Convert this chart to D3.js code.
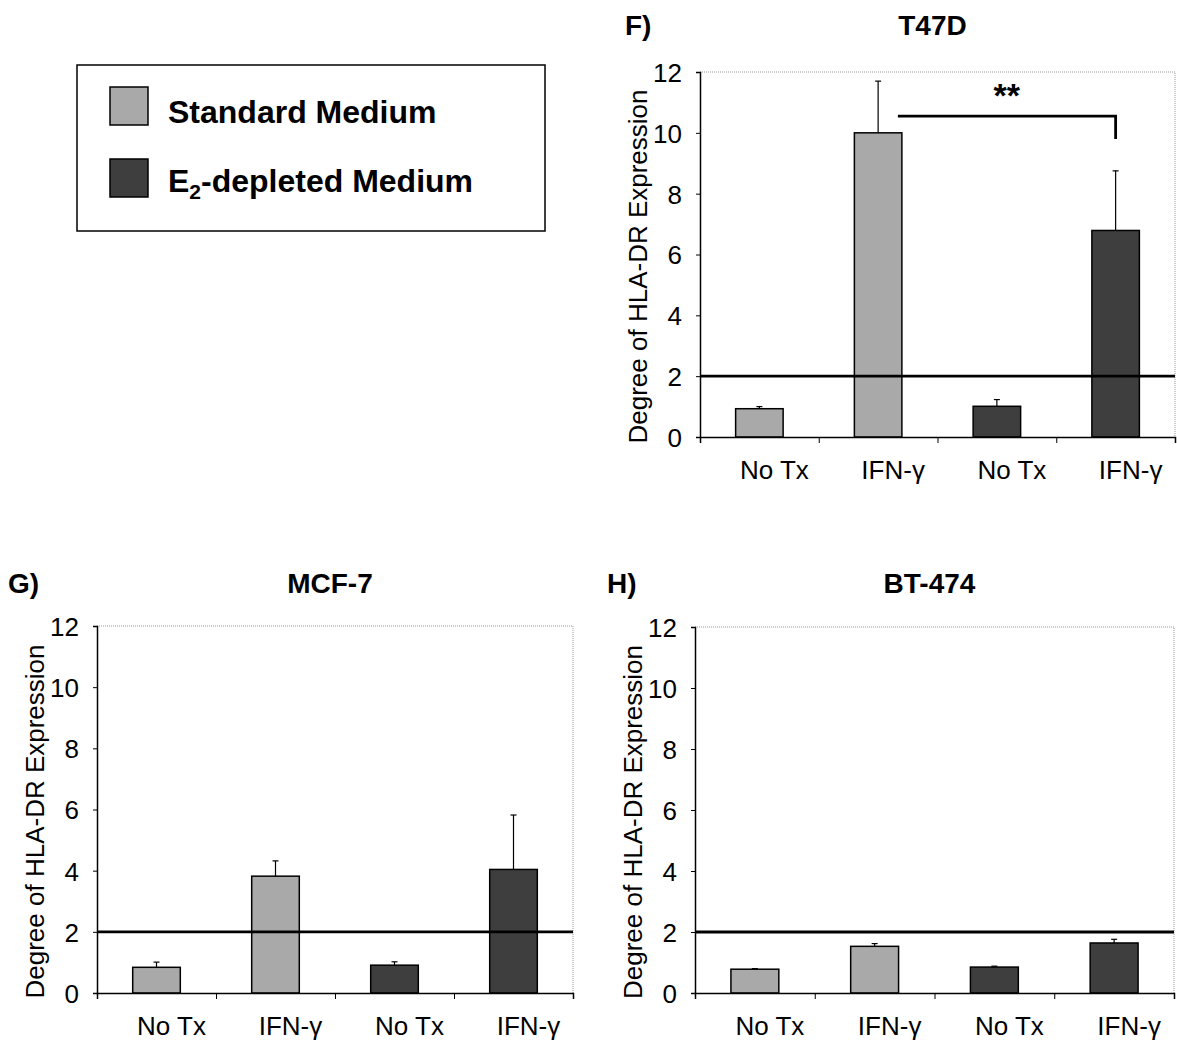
<!DOCTYPE html>
<html><head><meta charset="utf-8">
<script src="https://cdn.jsdelivr.net/npm/d3@7"></script>
<style>
body{margin:0;background:#fff;}
text{font-family:"Liberation Sans",Arial,sans-serif;fill:#000;}
</style></head>
<body><svg id="c" width="1177" height="1044"></svg>
<script>
// ---- data ----
const categories = ["No Tx", "IFN-γ", "No Tx", "IFN-γ"];
const media = ["std", "std", "e2", "e2"];
const legendLabels = ["Standard Medium", "E2-depleted Medium"];
const yTicks = [0, 2, 4, 6, 8, 10, 12];
const threshold = 2;

const t47dMeans = [0.93, 10.0, 1.01, 6.79];
const t47dErr   = [0.07, 1.70, 0.22, 1.96];
const mcf7Means = [0.84, 3.82, 0.91, 4.04];
const mcf7Err   = [0.17, 0.50, 0.11, 1.78];
const bt474Means = [0.78, 1.53, 0.85, 1.64];
const bt474Err   = [0.02, 0.09, 0.03, 0.12];

// significance bracket T47D (from bar 2 to bar 4)
const sigFrom = 1, sigTo = 3, sigLevel = 10.55, sigDrop = 9.8, sigLabel = "**";

const colors = {std: "#a9a9a9", e2: "#3e3e3e"};

const svg = d3.select("#c");

function panel(opt) {
  const {left, right, top, bottom, means, errs, title, letter, titleY, letterX} = opt;
  const g = svg.append("g");
  const x = d3.scaleBand().domain(d3.range(categories.length)).range([left, right])
    .paddingInner(0.6).paddingOuter(0.3);
  const y = d3.scaleLinear().domain([0, 12]).range([bottom, top]);

  // dotted frame top & right
  g.append("path").attr("d", `M${left},${top}H${right}V${bottom}`)
    .attr("fill", "none").attr("stroke", "#999").attr("stroke-width", 1)
    .attr("stroke-dasharray", "1,1");

  // bars
  g.selectAll("rect.bar").data(means).join("rect")
    .attr("x", (d, i) => x(i)).attr("width", x.bandwidth())
    .attr("y", d => y(d)).attr("height", d => y(0) - y(d))
    .attr("fill", (d, i) => colors[media[i]])
    .attr("stroke", "#000").attr("stroke-width", 1.5);

  // error bars (upper)
  const eb = g.selectAll("g.eb").data(means).join("g");
  eb.append("line")
    .attr("x1", (d, i) => x(i) + x.bandwidth() / 2).attr("x2", (d, i) => x(i) + x.bandwidth() / 2)
    .attr("y1", d => y(d)).attr("y2", (d, i) => y(d + errs[i]))
    .attr("stroke", "#000").attr("stroke-width", 1.2);
  eb.append("line")
    .attr("x1", (d, i) => x(i) + x.bandwidth() / 2 - 3).attr("x2", (d, i) => x(i) + x.bandwidth() / 2 + 3)
    .attr("y1", (d, i) => y(d + errs[i])).attr("y2", (d, i) => y(d + errs[i]))
    .attr("stroke", "#000").attr("stroke-width", 1.2);

  // threshold line
  g.append("line").attr("x1", left).attr("x2", right)
    .attr("y1", y(threshold)).attr("y2", y(threshold))
    .attr("stroke", "#000").attr("stroke-width", 2.8);

  // y axis
  const ya = g.append("g").attr("transform", `translate(${left},0)`)
    .call(d3.axisLeft(y).tickValues(yTicks).tickSize(4).tickPadding(14));
  ya.select(".domain").attr("stroke-width", 1.5);
  ya.selectAll("text").style("font-size", "26px").attr("dy", "0.36em");

  // x axis with ticks at band boundaries
  const xb = d3.scaleLinear().domain([0, categories.length]).range([left, right]);
  const xa = g.append("g").attr("transform", `translate(0,${bottom})`)
    .call(d3.axisBottom(xb).tickValues(d3.range(categories.length + 1)).tickSize(6).tickFormat(""));
  xa.select(".domain").attr("stroke-width", 1.5);
  g.selectAll("text.xl").data(categories).join("text")
    .attr("x", (d, i) => x(i) + x.bandwidth() / 2 + 15)
    .attr("y", bottom + 42).attr("text-anchor", "middle")
    .style("font-size", "26px").text(d => d);

  // y label
  g.append("text")
    .attr("transform", `translate(${left - 53},${(top + bottom) / 2 + 12}) rotate(-90)`)
    .attr("text-anchor", "middle").style("font-size", "26px")
    .text("Degree of HLA-DR Expression");

  // title & letter
  g.append("text").attr("x", (left + right) / 2 - 5).attr("y", titleY)
    .attr("text-anchor", "middle").style("font-size", "28px").style("font-weight", "bold").text(title);
  g.append("text").attr("x", letterX).attr("y", titleY)
    .style("font-size", "28px").style("font-weight", "bold").text(letter);

  return {x, y, g};
}

const F = panel({left: 700, right: 1175, top: 72, bottom: 437, means: t47dMeans, errs: t47dErr,
  title: "T47D", letter: "F)", titleY: 35, letterX: 625});
panel({left: 97, right: 573, top: 626, bottom: 993, means: mcf7Means, errs: mcf7Err,
  title: "MCF-7", letter: "G)", titleY: 593, letterX: 8});
panel({left: 695, right: 1174, top: 627, bottom: 993, means: bt474Means, errs: bt474Err,
  title: "BT-474", letter: "H)", titleY: 593, letterX: 607});

// significance bracket
{
  const {x, y, g} = F;
  const x1 = x(sigFrom) + x.bandwidth() - 4, x2 = x(sigTo) + x.bandwidth() / 2;
  g.append("path").attr("d", `M${x1},${y(sigLevel)}H${x2}V${y(sigDrop)}`)
    .attr("fill", "none").attr("stroke", "#000").attr("stroke-width", 2.8);
  g.append("text").attr("x", (x1 + x2) / 2).attr("y", 107).attr("text-anchor", "middle")
    .style("font-size", "34px").style("font-weight", "bold").text(sigLabel);
}

// legend
{
  const lg = svg.append("g");
  lg.append("rect").attr("x", 77).attr("y", 65).attr("width", 468).attr("height", 166)
    .attr("fill", "#fff").attr("stroke", "#000").attr("stroke-width", 1.5);
  const keys = ["std", "e2"];
  const rowY = [87, 159];
  keys.forEach((k, i) => {
    lg.append("rect").attr("x", 110).attr("y", rowY[i]).attr("width", 38).attr("height", 38)
      .attr("fill", colors[k]).attr("stroke", "#000").attr("stroke-width", 1.5);
  });
  lg.append("text").attr("x", 168).attr("y", 123).style("font-size", "32px").style("font-weight", "bold")
    .text(legendLabels[0]);
  const t2 = lg.append("text").attr("x", 168).attr("y", 192).style("font-size", "32px").style("font-weight", "bold");
  t2.append("tspan").text("E");
  t2.append("tspan").attr("dy", 7).style("font-size", "21px").text("2");
  t2.append("tspan").attr("dy", -7).text(legendLabels[1].slice(2));
}
</script></body></html>
